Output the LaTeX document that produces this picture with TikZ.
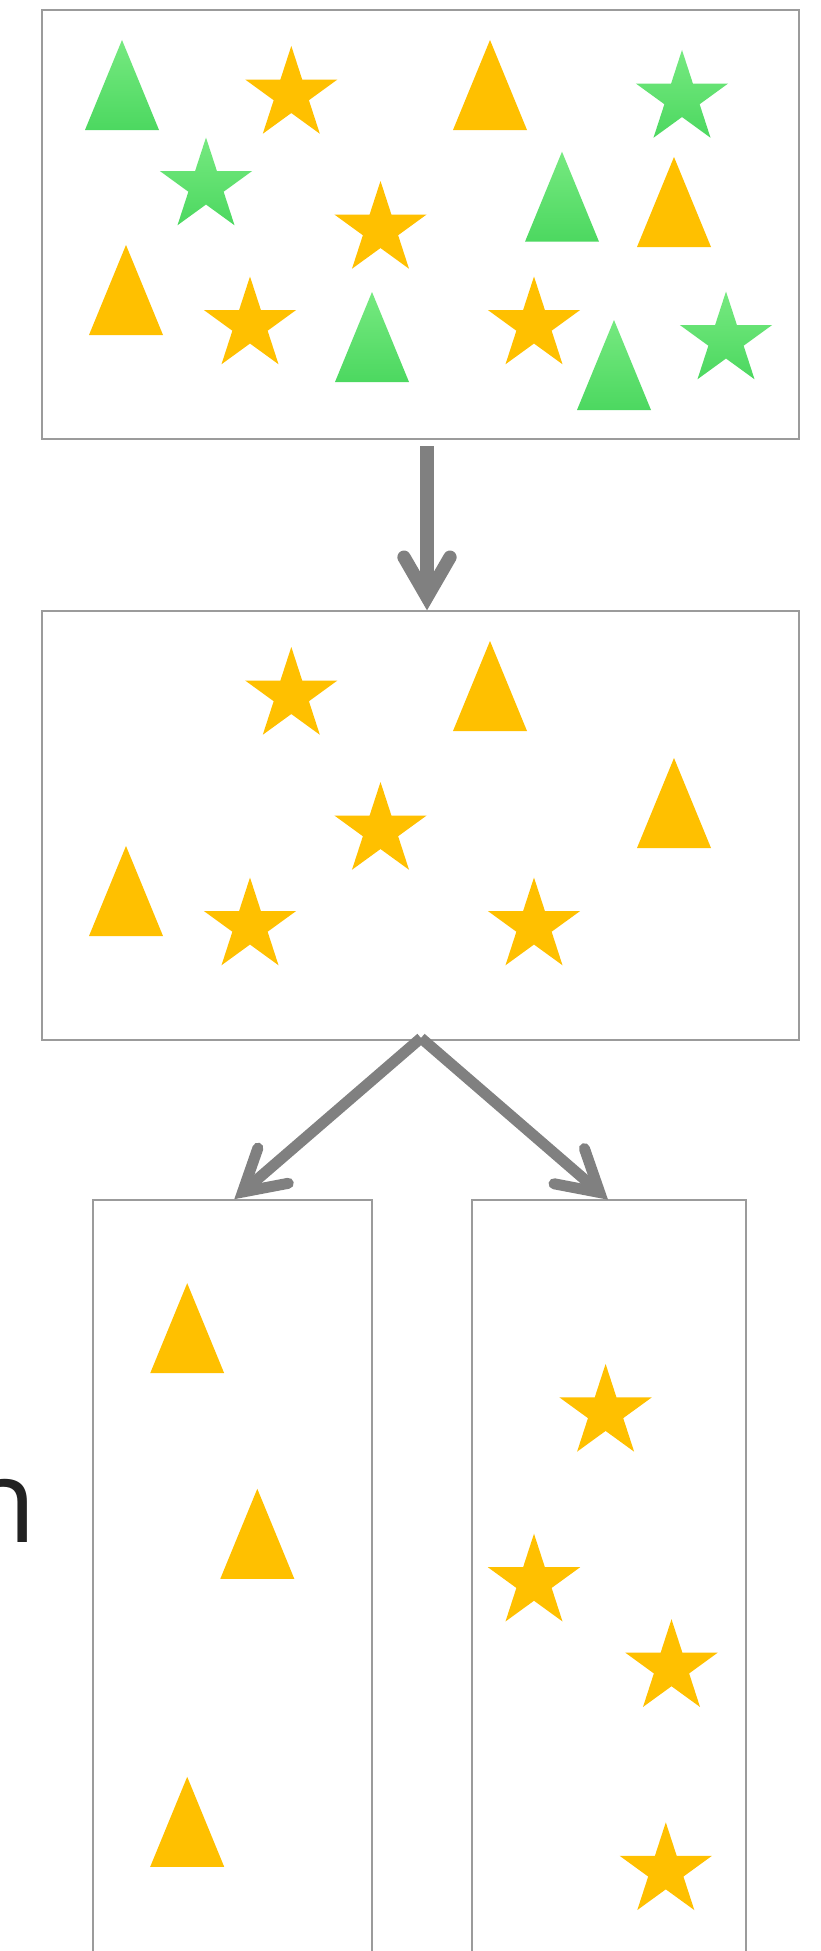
\documentclass[tikz,border=0pt]{standalone}
\usepackage{fontspec}
\newfontfamily\labelfont{Open Sans}
\usetikzlibrary{calc}

\definecolor{amber}{RGB}{255,192,0}
\definecolor{leafTop}{RGB}{118,233,128}
\definecolor{leafBot}{RGB}{76,216,96}
\definecolor{rule}{RGB}{155,155,155}
\definecolor{flow}{RGB}{128,128,128}
\definecolor{ink}{RGB}{34,34,34}

\tikzset{
  box/.style={draw=rule, line width=1.2pt, rectangle, inner sep=0pt, outer sep=0pt},
  amberfill/.style={fill=amber},
  greenfill/.style={top color=leafTop, bottom color=leafBot},
  % triangle with its apex at the pic origin
  tri/.pic={\path[pic actions] (0,0) -- (37,90) -- (-37,90) -- cycle;},
  % five-pointed star centred on the pic origin
  pentastar/.pic={\path[pic actions]
      (0,-48.5) -- (10.89,-14.99) -- (46.13,-14.99) -- (17.62,5.73)
      -- (28.51,39.24) -- (0,18.53) -- (-28.51,39.24) -- (-17.62,5.73)
      -- (-46.13,-14.99) -- (-10.89,-14.99) -- cycle;},
  shaft/.style={draw=flow, line cap=butt},
  barb/.style={draw=flow, line cap=round, line join=miter},
}

\begin{document}
\begin{tikzpicture}[x=1pt,y=-1pt]
\useasboundingbox[fill=white] (0,0) rectangle (820,1951);

% containers
\node[box, minimum width=757pt, minimum height=429pt] (mixed) at (420.5,224.5) {};
\node[box, minimum width=757pt, minimum height=429pt] (amberset) at (420.5,825.5) {};
\node[box, minimum width=279pt, minimum height=800pt] (tris) at (232.5,1600) {};
\node[box, minimum width=274pt, minimum height=800pt] (stars) at (609,1600) {};

% partial label at the left edge
\node[inner sep=0pt, anchor=base east, text=ink, font=\labelfont\fontsize{116}{120}\selectfont] (cut) at (36.8,1542) {n};

% mixed set
\pic[greenfill] at (122,40) {tri};
\pic[greenfill] at (562,151.7) {tri};
\pic[greenfill] at (372,292) {tri};
\pic[greenfill] at (614,320) {tri};
\pic[amberfill] at (490,40) {tri};
\pic[amberfill] at (674,157) {tri};
\pic[amberfill] at (126,245) {tri};
\pic[amberfill] at (291.3,94.5) {pentastar};
\pic[amberfill] at (380.5,229.5) {pentastar};
\pic[amberfill] at (250,325) {pentastar};
\pic[amberfill] at (534,325) {pentastar};
\pic[greenfill] at (682,98.5) {pentastar};
\pic[greenfill] at (206,186) {pentastar};
\pic[greenfill] at (726,340) {pentastar};

% amber-only set
\pic[amberfill] at (490,641) {tri};
\pic[amberfill] at (674,758) {tri};
\pic[amberfill] at (126,846) {tri};
\pic[amberfill] at (291.3,695.5) {pentastar};
\pic[amberfill] at (380.5,830.5) {pentastar};
\pic[amberfill] at (250,926) {pentastar};
\pic[amberfill] at (534,926) {pentastar};

% triangles only
\pic[amberfill] at (187.2,1283.2) {tri};
\pic[amberfill] at (257.3,1488.8) {tri};
\pic[amberfill] at (187.2,1776.8) {tri};

% stars only
\pic[amberfill] at (605.6,1412.4) {pentastar};
\pic[amberfill] at (534,1582.2) {pentastar};
\pic[amberfill] at (671.5,1667.7) {pentastar};
\pic[amberfill] at (665.8,1870.8) {pentastar};

% filter arrow
\coordinate (f0) at ($(mixed.south)+(6.5,7)$);
\coordinate (f1) at ($(amberset.north)+(6.5,-14)$);
\draw[shaft, line width=13.3pt] (f0) -- (f1);
\draw[barb, line width=13.3pt] ($(f1)!46pt!30:(f0)$) -- (f1) -- ($(f1)!46pt!-30:(f0)$);

% split arrows
\coordinate (s0) at ($(amberset.south)+(0.5,-2)$);
\coordinate (sl) at ($(tris.north)+(10.1,-8)$);
\coordinate (sr) at ($(stars.north)+(-9.3,-7.5)$);
\draw[shaft, line width=11pt] (s0) -- (sl);
\draw[barb, line width=11pt] ($(sl)!46.5pt!30:(s0)$) -- (sl) -- ($(sl)!46.5pt!-30:(s0)$);
\draw[shaft, line width=11pt] (s0) -- (sr);
\draw[barb, line width=11pt] ($(sr)!46.5pt!30:(s0)$) -- (sr) -- ($(sr)!46.5pt!-30:(s0)$);
\end{tikzpicture}
\end{document}
